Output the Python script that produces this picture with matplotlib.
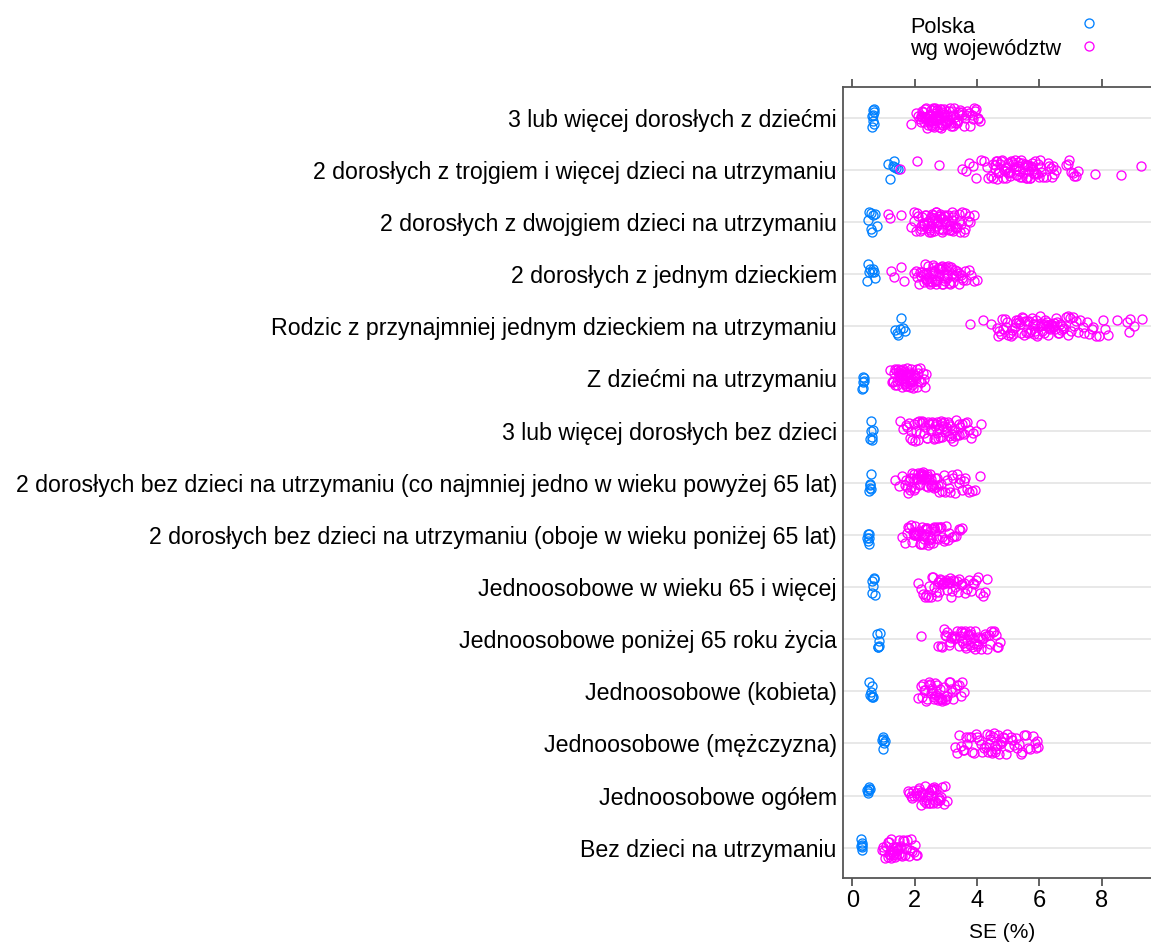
import numpy as np
import matplotlib.pyplot as plt
from matplotlib.lines import Line2D

plt.rcParams['font.family'] = ['Liberation Sans', 'DejaVu Sans']

# household types, top row first
categories = [
    '3 lub więcej dorosłych z dziećmi',
    '2 dorosłych z trojgiem i więcej dzieci na utrzymaniu',
    '2 dorosłych z dwojgiem dzieci na utrzymaniu',
    '2 dorosłych z jednym dzieckiem',
    'Rodzic z przynajmniej jednym dzieckiem na utrzymaniu',
    'Z dziećmi na utrzymaniu',
    '3 lub więcej dorosłych bez dzieci',
    '2 dorosłych bez dzieci na utrzymaniu (co najmniej jedno w wieku powyżej 65 lat)',
    '2 dorosłych bez dzieci na utrzymaniu (oboje w wieku poniżej 65 lat)',
    'Jednoosobowe w wieku 65 i więcej',
    'Jednoosobowe poniżej 65 roku życia',
    'Jednoosobowe (kobieta)',
    'Jednoosobowe (mężczyzna)',
    'Jednoosobowe ogółem',
    'Bez dzieci na utrzymaniu',
]

# SE (%) for the whole country
b01 = [0.62, 0.64, 0.66, 0.67, 0.69, 0.70, 0.65, 0.68]
b02 = [1.14, 1.22, 1.29, 1.35, 1.41, 1.47, 1.33]
b03 = [0.51, 0.55, 0.59, 0.63, 0.67, 0.72, 0.78, 0.61]
b04 = [0.46, 0.51, 0.53, 0.57, 0.62, 0.65, 0.69, 0.73]
b05 = [1.37, 1.43, 1.47, 1.52, 1.57, 1.62, 1.69]
b06 = [0.31, 0.33, 0.35, 0.37, 0.39, 0.34]
b07 = [0.58, 0.60, 0.62, 0.64, 0.66, 0.61]
b08 = [0.55, 0.57, 0.59, 0.56, 0.58, 0.60]
b09 = [0.48, 0.50, 0.52, 0.54, 0.51, 0.53]
b10 = [0.62, 0.64, 0.66, 0.68, 0.70, 0.73]
b11 = [0.80, 0.82, 0.84, 0.86, 0.88, 0.83]
b12 = [0.55, 0.58, 0.60, 0.62, 0.64, 0.66, 0.63]
b13 = [0.95, 0.98, 1.00, 1.02, 1.05, 0.99]
b14 = [0.48, 0.50, 0.52, 0.54, 0.56, 0.51]
b15 = [0.28, 0.30, 0.32, 0.30, 0.29, 0.31]

# SE (%) by voivodeship
p01 = [1.88, 2.04, 2.11, 2.16, 2.19, 2.23, 2.27, 2.29, 2.33, 2.36, 2.41, 2.43, 2.46, 2.51, 2.53,
       2.56, 2.58, 2.62, 2.65, 2.68, 2.71, 2.73, 2.77, 2.79, 2.82, 2.86, 2.88, 2.92, 2.95, 2.97,
       3.01, 3.03, 3.07, 3.11, 3.14, 3.18, 3.22, 3.27, 3.31, 3.36, 3.42, 3.46, 3.51, 3.57, 3.62,
       3.68, 3.74, 3.79, 3.86, 3.91, 3.97, 4.03, 4.09, 2.39, 2.61, 2.84, 3.05, 2.48, 2.94,
       2.21, 2.25, 2.31, 2.34, 2.38, 2.44, 2.49, 2.55, 2.59, 2.64, 2.69, 2.74, 2.78, 2.81, 2.85,
       2.90, 2.99, 3.02, 3.09, 3.13, 3.16, 3.24, 3.29, 3.38, 3.44, 3.53, 3.66, 3.83, 2.52, 2.67,
       2.75, 2.87, 2.47, 2.63, 2.57, 2.98, 3.19, 3.35, 3.93, 4.05]
p02 = [1.53, 2.09, 2.77, 3.51, 3.64, 3.73, 3.88, 3.97, 4.14, 4.23, 4.31, 4.37, 4.46, 4.51, 4.57,
       4.61, 4.66, 4.69, 4.74, 4.78, 4.83, 4.86, 4.91, 4.94, 4.99, 5.03, 5.07, 5.11, 5.17, 5.21,
       5.24, 5.31, 5.36, 5.39, 5.46, 5.52, 5.57, 5.61, 5.66, 5.69, 5.73, 5.78, 5.82, 5.87, 5.93,
       5.98, 6.04, 6.11, 6.22, 6.31, 6.37, 6.44, 6.53, 6.86, 6.94, 7.01, 7.07, 7.17, 7.25, 7.79,
       8.61, 9.26, 4.53, 4.59, 4.64, 4.72, 4.81, 4.89, 4.96, 5.01, 5.14, 5.19, 5.27, 5.33, 5.42,
       5.49, 5.54, 5.59, 5.64, 5.71, 5.76, 5.84, 5.89, 5.96, 6.01, 6.07, 6.27, 6.41, 6.49, 5.06,
       5.29, 5.44, 5.62, 5.81, 6.97, 7.12]
p03 = [1.13, 1.21, 1.56, 1.88, 1.97, 2.04, 2.09, 2.16, 2.19, 2.24, 2.29, 2.31, 2.37, 2.41, 2.43,
       2.49, 2.52, 2.57, 2.59, 2.63, 2.68, 2.71, 2.76, 2.79, 2.83, 2.87, 2.91, 2.94, 2.99, 3.03,
       3.06, 3.11, 3.14, 3.19, 3.24, 3.29, 3.33, 3.41, 3.46, 3.52, 3.57, 3.63, 3.71, 3.79, 3.89,
       2.27, 2.54, 2.81, 3.08, 2.21, 2.33, 2.39, 2.46, 2.51, 2.56, 2.61, 2.66, 2.73, 2.78, 2.86,
       2.89, 2.97, 3.01, 3.13, 3.17, 3.22, 3.27, 3.36, 3.44, 3.49, 3.61, 3.74, 2.48, 2.69, 2.92,
       3.21, 2.11, 1.99]
p04 = [1.23, 1.33, 1.57, 1.65, 1.98, 2.07, 2.13, 2.19, 2.26, 2.29, 2.35, 2.38, 2.41, 2.47, 2.49,
       2.55, 2.58, 2.61, 2.67, 2.69, 2.74, 2.77, 2.81, 2.86, 2.89, 2.93, 2.97, 3.03, 3.05, 3.11,
       3.13, 3.19, 3.23, 3.26, 3.33, 3.37, 3.44, 3.49, 3.56, 3.66, 3.81, 3.99, 2.44, 2.72, 2.95,
       2.16, 2.23, 2.32, 2.39, 2.45, 2.52, 2.59, 2.64, 2.71, 2.76, 2.79, 2.84, 2.91, 2.99, 3.08,
       3.16, 3.21, 3.29, 3.41, 3.53, 3.61, 3.75, 2.56, 2.63, 2.88, 3.01, 2.05, 3.91]
p05 = [3.78, 4.21, 4.46, 4.63, 4.71, 4.79, 4.89, 4.94, 5.01, 5.09, 5.13, 5.21, 5.27, 5.31, 5.37,
       5.45, 5.49, 5.57, 5.61, 5.67, 5.73, 5.81, 5.85, 5.91, 5.97, 6.03, 6.09, 6.17, 6.21, 6.27,
       6.33, 6.39, 6.44, 6.51, 6.57, 6.63, 6.71, 6.77, 6.87, 6.93, 7.03, 7.11, 7.19, 7.31, 7.44,
       7.61, 7.74, 7.91, 8.04, 8.21, 8.49, 8.81, 8.93, 9.04, 9.29, 5.53, 5.94, 6.12, 6.36,
       4.67, 4.76, 4.84, 4.98, 5.05, 5.17, 5.24, 5.34, 5.41, 5.52, 5.64, 5.71, 5.78, 5.88, 6.01,
       6.06, 6.14, 6.24, 6.31, 6.42, 6.47, 6.54, 6.61, 6.68, 6.74, 6.81, 6.91, 6.99, 7.07, 7.24,
       7.39, 7.52, 7.68, 7.83, 8.11, 8.87, 6.19, 6.29, 6.49, 5.83]
p06 = [1.21, 1.26, 1.29, 1.34, 1.36, 1.41, 1.44, 1.46, 1.51, 1.53, 1.56, 1.59, 1.62, 1.64, 1.68,
       1.71, 1.72, 1.77, 1.79, 1.83, 1.86, 1.88, 1.92, 1.95, 1.98, 2.01, 2.04, 2.07, 2.11, 2.16,
       2.21, 2.29, 2.38, 1.49, 1.66, 1.81, 1.31, 1.38, 1.43, 1.48, 1.54, 1.57, 1.61, 1.67, 1.69,
       1.74, 1.76, 1.81, 1.84, 1.89, 1.91, 1.96, 2.02, 2.09, 2.13, 2.19, 1.58, 1.73, 1.87, 1.63,
       2.26, 2.33]
p07 = [1.53, 1.64, 1.76, 1.83, 1.89, 1.97, 2.01, 2.09, 2.13, 2.21, 2.27, 2.31, 2.39, 2.43, 2.51,
       2.55, 2.61, 2.69, 2.73, 2.79, 2.87, 2.91, 2.99, 3.03, 3.11, 3.17, 3.21, 3.29, 3.33, 3.41,
       3.47, 3.53, 3.57, 3.67, 3.81, 3.96, 4.14, 2.47, 2.83, 3.07, 1.71, 1.86, 1.93, 2.04, 2.11,
       2.17, 2.24, 2.34, 2.41, 2.53, 2.58, 2.64, 2.71, 2.76, 2.85, 2.94, 3.01, 3.09, 3.14, 3.24,
       3.36, 3.44, 3.51, 3.62, 3.74, 2.66, 2.89, 3.27, 3.88]
p08 = [1.37, 1.49, 1.61, 1.69, 1.76, 1.79, 1.86, 1.91, 1.94, 2.01, 2.06, 2.09, 2.14, 2.21, 2.24,
       2.31, 2.34, 2.41, 2.44, 2.51, 2.56, 2.59, 2.66, 2.71, 2.79, 2.89, 2.97, 3.03, 3.13, 3.19,
       3.29, 3.37, 3.43, 3.53, 3.61, 3.69, 3.83, 3.94, 4.11, 2.18, 2.37, 1.81, 1.84, 1.88, 1.97,
       1.99, 2.03, 2.11, 2.16, 2.19, 2.23, 2.27, 2.29, 2.36, 2.39, 2.46, 2.49, 2.54, 2.62, 2.69,
       2.74, 2.84, 2.93, 3.09, 3.24, 3.47, 3.58, 3.76, 2.26, 2.53, 1.73]
p09 = [1.58, 1.69, 1.75, 1.83, 1.87, 1.94, 1.97, 2.04, 2.07, 2.14, 2.17, 2.24, 2.27, 2.34, 2.37,
       2.44, 2.47, 2.54, 2.57, 2.64, 2.67, 2.74, 2.77, 2.85, 2.89, 2.97, 3.02, 3.11, 3.19, 3.33,
       3.41, 3.51, 2.21, 2.51, 1.79, 1.91, 1.99, 2.01, 2.11, 2.19, 2.29, 2.31, 2.41, 2.49, 2.59,
       2.61, 2.71, 2.81, 2.93, 3.06, 3.27, 3.46, 2.39, 2.63, 2.02, 2.33]
p10 = [2.12, 2.21, 2.34, 2.43, 2.47, 2.55, 2.59, 2.67, 2.71, 2.79, 2.83, 2.91, 2.95, 3.03, 3.07,
       3.15, 3.19, 3.27, 3.31, 3.39, 3.44, 3.53, 3.61, 3.69, 3.81, 3.87, 3.97, 4.04, 4.21, 4.31,
       2.87, 3.11, 2.27, 2.38, 2.51, 2.63, 2.74, 2.86, 2.97, 3.01, 3.12, 3.23, 3.35, 3.48, 3.57,
       3.75, 3.91, 4.11, 2.91, 3.05, 3.17, 2.78, 4.26]
p11 = [2.20, 2.76, 2.84, 2.93, 2.97, 3.05, 3.09, 3.17, 3.21, 3.29, 3.33, 3.41, 3.45, 3.53, 3.57,
       3.65, 3.69, 3.77, 3.81, 3.89, 3.93, 4.01, 4.05, 4.13, 4.17, 4.25, 4.29, 4.39, 4.45, 4.56,
       4.64, 4.74, 3.49, 3.73, 3.97, 2.88, 3.01, 3.12, 3.25, 3.37, 3.51, 3.61, 3.71, 3.85, 3.95,
       4.09, 4.21, 4.33, 4.42, 4.51, 4.61, 3.55, 3.63, 3.79, 3.87, 4.03, 4.69]
p12 = [2.12, 2.23, 2.29, 2.37, 2.41, 2.49, 2.53, 2.61, 2.65, 2.73, 2.77, 2.85, 2.89, 2.97, 3.01,
       3.09, 3.13, 3.23, 3.29, 3.41, 3.49, 3.57, 2.57, 2.81, 2.19, 2.33, 2.45, 2.55, 2.63, 2.69,
       2.75, 2.83, 2.93, 3.05, 3.17, 3.35, 3.53, 2.47, 2.67, 2.87, 2.27, 3.21]
p13 = [3.30, 3.41, 3.49, 3.59, 3.65, 3.75, 3.81, 3.91, 3.97, 4.07, 4.13, 4.23, 4.29, 4.39, 4.45,
       4.55, 4.61, 4.71, 4.77, 4.87, 4.93, 5.03, 5.09, 5.19, 5.25, 5.35, 5.41, 5.51, 5.59, 5.71,
       5.79, 5.91, 5.97, 4.35, 4.51, 4.67, 3.55, 3.69, 3.85, 4.01, 4.17, 4.33, 4.43, 4.49, 4.57,
       4.65, 4.73, 4.83, 4.97, 5.13, 5.29, 5.45, 5.65, 5.85, 4.41, 4.59, 4.81, 3.35, 5.93]
p14 = [1.80, 1.87, 1.91, 1.99, 2.03, 2.11, 2.15, 2.23, 2.27, 2.35, 2.39, 2.47, 2.51, 2.59, 2.63,
       2.71, 2.75, 2.83, 2.89, 2.95, 3.03, 2.19, 2.43, 2.55, 1.83, 1.95, 2.07, 2.13, 2.21, 2.31,
       2.37, 2.45, 2.53, 2.61, 2.67, 2.79, 2.86, 2.99, 2.49, 2.57, 2.65, 2.33]
p15 = [0.94, 1.01, 1.05, 1.13, 1.17, 1.25, 1.29, 1.37, 1.41, 1.49, 1.53, 1.61, 1.65, 1.73, 1.77,
       1.85, 1.89, 1.97, 2.01, 2.07, 1.21, 1.33, 1.45, 0.97, 1.09, 1.15, 1.19, 1.27, 1.31, 1.35,
       1.39, 1.43, 1.47, 1.51, 1.57, 1.63, 1.69, 1.81, 1.93, 2.04, 1.23, 1.55, 1.38]

polska = [b01, b02, b03, b04, b05, b06, b07, b08, b09, b10, b11, b12, b13, b14, b15]
wojewodztwa = [p01, p02, p03, p04, p05, p06, p07, p08, p09, p10, p11, p12, p13, p14, p15]

blue = '#0080ff'
pink = '#ff00ff'
axcol = '#555555'
W, H = 1151, 950


def jitter(k, seed=0.0):
    # small vertical spread so overlapping circles stay visible (hash-style, repeatable)
    i = np.arange(k) + seed
    u = (np.sin(i * 12.9898 + 78.233) * 43758.5453) % 1
    return (u - 0.5) * 0.40


fig = plt.figure(figsize=(W / 100, H / 100), dpi=100)
ax = fig.add_axes([843 / W, 1 - 877.7 / H, (1161 - 843) / W, (877.7 - 86.7) / H])

n = len(categories)
ypos = np.arange(n, 0, -1)
for y in ypos:
    ax.axhline(y, color='#e6e6e6', lw=1.3, zorder=0)

mk = dict(marker='o', ls='none', mfc='none', ms=6.5, mew=0.95)
for r, (y, b, p) in enumerate(zip(ypos, polska, wojewodztwa)):
    ax.plot(b, y + jitter(len(b), 100 + 7 * r), color=blue, **mk)
    ax.plot(p, y + jitter(len(p), 300 * r), color=pink, **mk)

ax.set_xlim(-0.3, (1161 - 852.3) / 31.15)
ax.set_ylim(0.425, n + 0.595)
ax.set_xticks([0, 2, 4, 6, 8])
ax.set_yticks(ypos)
ax.set_yticklabels(categories)
ax.tick_params(axis='x', top=True, bottom=True, direction='out', length=6, width=1.3,
               color=axcol, labelsize=17, pad=3)
ax.tick_params(axis='y', length=0, labelsize=16.65, pad=4.5)
for s in ['left', 'top', 'bottom']:
    ax.spines[s].set_color(axcol)
    ax.spines[s].set_linewidth(1.3)
ax.spines['right'].set_visible(False)
ax.set_xlabel('SE (%)', fontsize=15, labelpad=8)

# key above the panel
fig.text(910 / W, 1 - 33 / H, 'Polska', fontsize=15.7, va='baseline')
fig.text(910 / W, 1 - 55 / H, 'wg województw', fontsize=15.7, va='baseline')
for yy, c in [(23, blue), (46, pink)]:
    fig.add_artist(Line2D([1089 / W], [1 - yy / H], transform=fig.transFigure,
                          color=c, **mk))

fig.savefig('out.png', dpi=100)
